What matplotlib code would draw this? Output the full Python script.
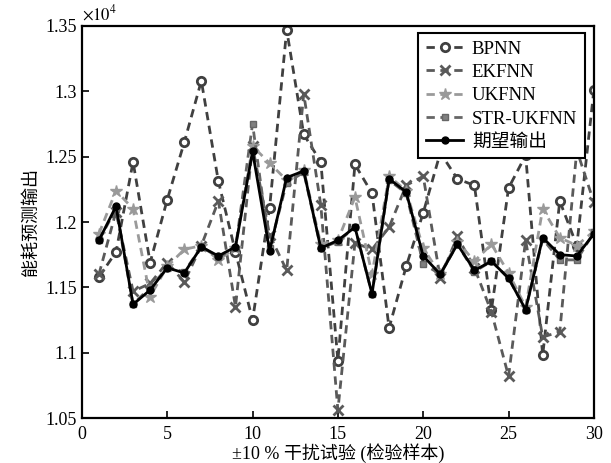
import matplotlib
matplotlib.use("Agg")
import matplotlib.pyplot as plt
from matplotlib.ticker import FuncFormatter

plt.rcParams['font.family'] = ['Liberation Serif', 'Noto Sans CJK SC']
plt.rcParams['mathtext.fontset'] = 'stix'

# energy-consumption predictions, in units of 1e4
samples = list(range(1, 31))
bpnn = [1.158, 1.177, 1.246, 1.169, 1.217, 1.261, 1.308, 1.231, 1.177, 1.125,
        1.211, 1.347, 1.267, 1.246, 1.094, 1.244, 1.222, 1.119, 1.166, 1.207,
        1.253, 1.233, 1.228, 1.133, 1.226, 1.251, 1.098, 1.216, 1.182, 1.301]
ekfnn = [1.160, 1.208, 1.147, 1.153, 1.169, 1.154, 1.182, 1.216, 1.135, 1.258,
         1.190, 1.163, 1.298, 1.213, 1.056, 1.184, 1.179, 1.196, 1.228, 1.235,
         1.157, 1.189, 1.165, 1.131, 1.082, 1.186, 1.112, 1.116, 1.255, 1.215]
ukfnn = [1.191, 1.224, 1.210, 1.143, 1.166, 1.179, 1.182, 1.171, 1.180, 1.258,
         1.245, 1.232, 1.240, 1.183, 1.186, 1.219, 1.160, 1.235, 1.224, 1.180,
         1.160, 1.185, 1.170, 1.183, 1.161, 1.135, 1.210, 1.188, 1.182, 1.193]
str_ukfnn = [1.186, 1.210, 1.137, 1.150, 1.165, 1.162, 1.181, 1.173, 1.180, 1.275,
             1.180, 1.230, 1.238, 1.180, 1.185, 1.196, 1.145, 1.232, 1.222, 1.168,
             1.160, 1.183, 1.162, 1.170, 1.157, 1.133, 1.187, 1.171, 1.171, 1.192]
expected = [1.186, 1.212, 1.137, 1.148, 1.165, 1.161, 1.181, 1.174, 1.181, 1.254,
            1.178, 1.234, 1.239, 1.180, 1.186, 1.196, 1.145, 1.233, 1.223, 1.174,
            1.160, 1.183, 1.163, 1.170, 1.157, 1.133, 1.188, 1.175, 1.174, 1.191]

fig = plt.figure(figsize=(6.11, 4.63), dpi=100)
ax = fig.add_axes([0.134, 0.097, 0.838, 0.847])

dash = (3, 2)
ax.plot(samples, bpnn, '--o', color='#404040', lw=2, dashes=dash, ms=6,
        mfc='white', mec='#404040', mew=2, label='BPNN')
ax.plot(samples, ekfnn, '--x', color='#5a5a5a', lw=2, dashes=dash, ms=7,
        mew=2, label='EKFNN')
ax.plot(samples, ukfnn, '--*', color='#9a9a9a', lw=2, dashes=dash, ms=9,
        label='UKFNN')
ax.plot(samples, str_ukfnn, '--s', color='#666666', lw=2, dashes=dash, ms=5,
        mfc='#808080', mec='#666666', label='STR-UKFNN')
ax.plot(samples, expected, '-o', color='black', lw=2, ms=5, label='期望输出')

ax.set_xlim(0, 30)
ax.set_ylim(1.05, 1.35)
ax.set_xticks(range(0, 31, 5))
ax.set_yticks([1.05, 1.1, 1.15, 1.2, 1.25, 1.3, 1.35])
ax.yaxis.set_major_formatter(FuncFormatter(lambda v, p: f"{v:g}"))
ax.tick_params(direction='in', labelsize=13, width=1.2, length=5)
ax.tick_params(axis='x', pad=6)
for s in ax.spines.values():
    s.set_linewidth(1.6)

ax.text(0.0, 1.005, r'$\times10^4$', transform=ax.transAxes, fontsize=12,
        ha='left', va='bottom')
ax.set_xlabel('±10 % 干扰试验 (检验样本)', fontsize=13, labelpad=0)
ax.set_ylabel('能耗预测输出', fontsize=13, labelpad=4)

leg = ax.legend(loc='upper right', bbox_to_anchor=(0.982, 0.982), fontsize=13.5,
                fancybox=False, framealpha=1, edgecolor='black',
                handlelength=2.0, borderpad=0.4, labelspacing=0.33,
                handletextpad=0.45, borderaxespad=0)
leg.get_frame().set_linewidth(1.5)

fig.savefig("out.png", dpi=100)
